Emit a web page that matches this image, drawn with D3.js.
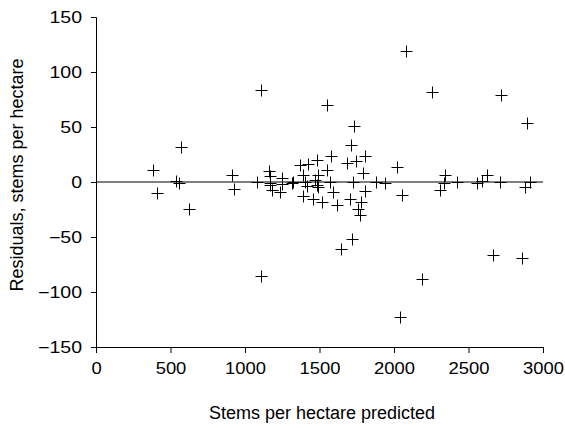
<!DOCTYPE html>
<html><head><meta charset="utf-8">
<script src="https://cdn.jsdelivr.net/npm/d3@7"></script>
<style>
html,body{margin:0;padding:0;background:#fff;}
text{font-family:"Liberation Sans",Arial,sans-serif;fill:#000;}
</style></head>
<body>
<svg id="c" width="565" height="428"></svg>
<script>
const predicted = [385,407,540,555,570,626,910,926,1080,1107,1105,1163,1168,1168,1168,1179,1235,1246,1250,1313,1324,1369,1391,1391,1403,1414,1425,1459,1470,1481,1481,1492,1492,1515,1548,1553,1570,1575,1593,1615,1644,1682,1705,1709,1727,1720,1734,1743,1756,1772,1779,1794,1805,1805,1877,1940,2018,2052,2040,2081,2186,2257,2309,2335,2342,2420,2559,2590,2622,2667,2711,2716,2857,2879,2895,2913];
const residuals = [11,-10,1,-1,32,-25,6,-6,0,84,-85,10,5,-1,-3,-7,-9,4,-2,-1,0,15,6,-13,0,-4,16,-15,2,20,-3,6,-5,-18,11,70,0,24,-9,-21,-61,17,-15,34,0,-52,51,19,-25,-30,-18,8,24,-8,0,-1,14,-12,-123,119,-88,82,-7,-1,6,0,-1,1,6,-66,0,79,-69,-5,54,0];
const xTicks = [0,500,1000,1500,2000,2500,3000];
const yTicks = [-150,-100,-50,0,50,100,150];

const svg = d3.select("#c");
const x = d3.scaleLinear().domain([0,3000]).range([96,543]);
const y = d3.scaleLinear().domain([-150,150]).range([347,17]);

const xAxis = svg.append("g").attr("transform","translate(0,347)")
  .call(d3.axisBottom(x).tickValues(xTicks).tickSize(6).tickPadding(10).tickFormat(d3.format("d")));
const yAxis = svg.append("g").attr("transform","translate(96,0)")
  .call(d3.axisLeft(y).tickValues(yTicks).tickSize(5).tickPadding(9).tickFormat(d3.format("d")));
[xAxis,yAxis].forEach(a=>{
  a.select(".domain").attr("stroke","#000").attr("stroke-width",1);
  a.selectAll(".tick line").attr("stroke","#000");
  a.selectAll("text").style("font-size","16px").attr("fill","#000");
});
xAxis.select(".domain").attr("d","M96,0.5H543.5");
// widen tick label glyphs horizontally to match the reference
xAxis.selectAll(".tick text").attr("transform","scale(1.15,1)").attr("x",0);
yAxis.selectAll(".tick text").attr("x",0).attr("transform","translate(-14,0) scale(1.22,1)");

// zero line
svg.append("line").attr("x1",x(0)).attr("x2",x(3000)).attr("y1",y(0)).attr("y2",y(0))
  .attr("stroke","#000").attr("stroke-width",1);

const s = 6;
svg.append("g").selectAll("path").data(predicted.map((p,i)=>[p,residuals[i]])).join("path")
  .attr("d",d=>{const cx=Math.round(x(d[0]))+0.5, cy=Math.round(y(d[1]))+0.5;
    return `M${cx-s},${cy}H${cx+s}M${cx},${cy-s}V${cy+s}`;})
  .attr("stroke","#000").attr("stroke-width",1).attr("fill","none");

svg.append("text").attr("x",322).attr("y",419).attr("text-anchor","middle")
  .style("font-size","18px").text("Stems per hectare predicted");
svg.append("text").attr("transform","translate(23,175) rotate(-90)").attr("text-anchor","middle")
  .style("font-size","18px").text("Residuals, stems per hectare");
</script>
</body></html>
